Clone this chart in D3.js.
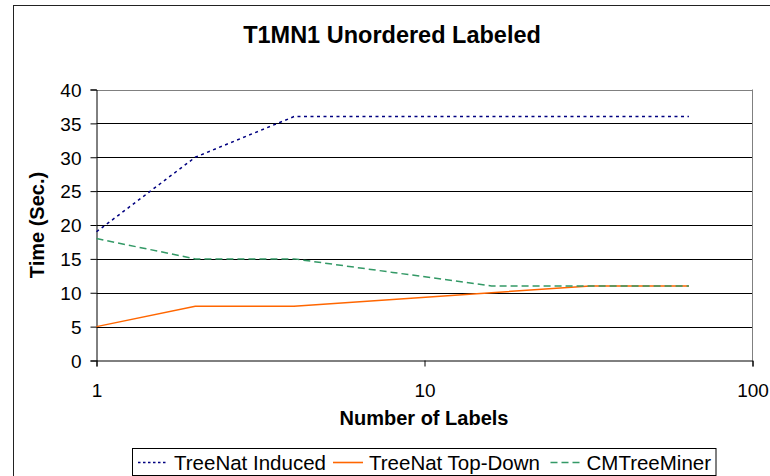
<!DOCTYPE html>
<html><head><meta charset="utf-8">
<script src="https://cdn.jsdelivr.net/npm/d3@7"></script>
<style>body{margin:0;background:#fff}svg{display:block}text{font-family:"Liberation Sans",Arial,sans-serif;fill:#000}</style>
</head><body><svg id="c" width="770" height="476"></svg>
<script>
const xValues = [1, 2, 4, 8, 16, 32, 64];
const induced = [19, 30, 36, 36, 36, 36, 36];
const topDown = [5, 8, 8, 9, 10, 11, 11];
const cmTree = [18, 15, 15, 13, 11, 11, 11];
const yTicks = [0, 5, 10, 15, 20, 25, 30, 35, 40];
const xTicks = [1, 10, 100];
const seriesNames = ["TreeNat Induced", "TreeNat Top-Down", "CMTreeMiner"];

const svg = d3.select("#c");
svg.append("rect").attr("x", 13.5).attr("y", 5.5).attr("width", 800).attr("height", 500)
  .attr("fill", "#fff").attr("stroke", "#222").attr("stroke-width", 1);

const L = 96.5, R = 752.5, T = 89.5, B = 360.5;
const x = d3.scaleLog().domain([1, 100]).range([L, R]);
const y = d3.scaleLinear().domain([0, 40]).range([B, T]);

// gridlines
svg.append("g").selectAll("line").data(yTicks.filter(v => v > 0)).join("line")
  .attr("x1", L).attr("x2", R).attr("y1", d => Math.round(y(d)) + 0.5).attr("y2", d => Math.round(y(d)) + 0.5)
  .attr("stroke", d => d === 40 ? "#808080" : "#000").attr("stroke-width", 1);
svg.append("line").attr("x1", R).attr("x2", R).attr("y1", T).attr("y2", B).attr("stroke", "#808080");

// axes
const yAxis = svg.append("g").attr("transform", `translate(${L},0)`)
  .call(d3.axisLeft(y).tickValues(yTicks).tickSize(6).tickPadding(9).tickFormat(d3.format("d")));
const xAxis = svg.append("g").attr("transform", `translate(0,${B})`)
  .call(d3.axisBottom(x).tickValues(xTicks).tickSize(6).tickPadding(17).tickFormat(d3.format("d")));
[yAxis, xAxis].forEach(g => {
  g.select(".domain").attr("stroke", "#000");
  g.selectAll(".tick line").attr("stroke", "#000");
  g.selectAll("text").attr("font-size", 19).attr("font-family", "Liberation Sans, Arial, sans-serif");
});
yAxis.selectAll("text").attr("dy", "0.36em");

// lines
const styles = [
  {data: induced, color: "#000080", dash: "3,3.5"},
  {data: topDown, color: "#FF6600", dash: null},
  {data: cmTree, color: "#339966", dash: "7,4"}
];
const line = d3.line().x((d, i) => x(xValues[i])).y(d => y(d));
styles.forEach(s => {
  svg.append("path").datum(s.data).attr("d", line).attr("fill", "none")
    .attr("stroke", s.color).attr("stroke-width", 1.5).attr("stroke-dasharray", s.dash);
});

// titles
svg.append("text").attr("x", 392).attr("y", 43).attr("text-anchor", "middle")
  .attr("font-size", 23.5).attr("font-weight", "bold").text("T1MN1 Unordered Labeled");
svg.append("text").attr("x", 424).attr("y", 425).attr("text-anchor", "middle")
  .attr("font-size", 20).attr("font-weight", "bold").text("Number of Labels");
svg.append("text").attr("transform", "translate(44,225) rotate(-90)").attr("text-anchor", "middle")
  .attr("font-size", 20).attr("font-weight", "bold").text("Time (Sec.)");

// legend
svg.append("rect").attr("x", 132.5).attr("y", 448.5).attr("width", 583.5).attr("height", 27)
  .attr("fill", "#fff").attr("stroke", "#000");
const legX = [138, 333, 550.5];
const leg = svg.append("g");
seriesNames.forEach((n, i) => {
  leg.append("line").attr("x1", legX[i]).attr("x2", legX[i] + 30).attr("y1", 462.5).attr("y2", 462.5)
    .attr("stroke", styles[i].color).attr("stroke-width", 1.6)
    .attr("stroke-dasharray", i === 0 ? "2.5,2.5" : styles[i].dash);
  leg.append("text").attr("x", legX[i] + 36).attr("y", 469.5).attr("font-size", 20.5).text(n);
});
</script></body></html>
